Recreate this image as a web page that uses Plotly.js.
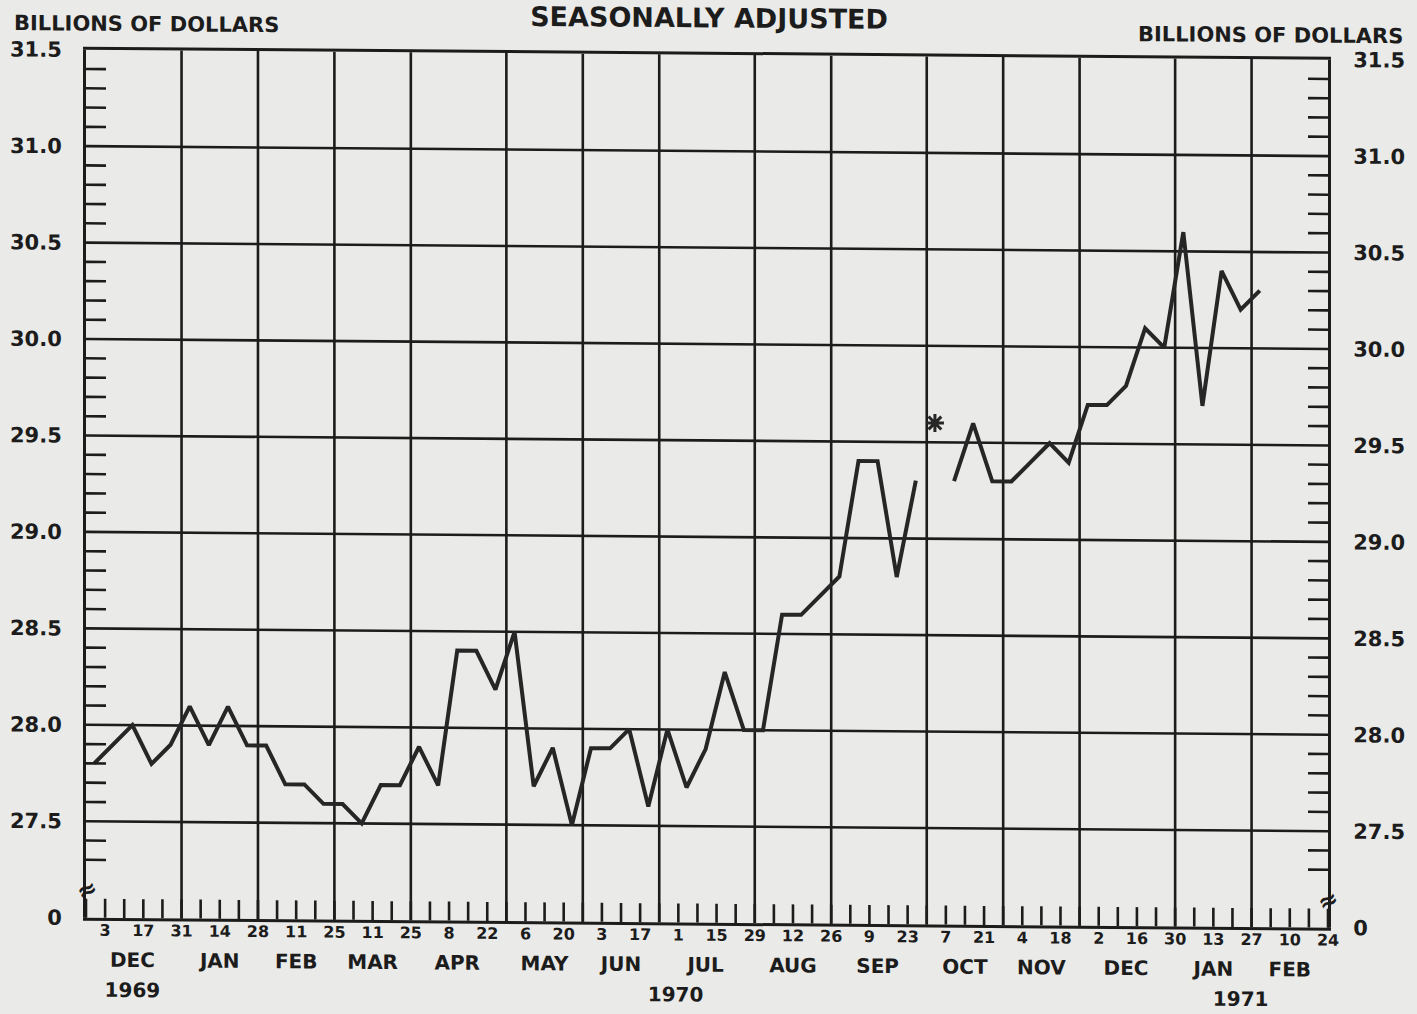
<!DOCTYPE html>
<html>
<head>
<meta charset="utf-8">
<script src="https://cdn.plot.ly/plotly-3.0.1.min.js"></script>
<style>
  html, body { margin: 0; padding: 0; background: #eaeae8; overflow: hidden; }
  #chart { width: 1417px; height: 1014px; transform: skewY(0.46deg); transform-origin: 0 0; }
  #chart path { shape-rendering: geometricPrecision !important; }
</style>
</head>
<body>
<div id="chart"></div>
<script>
// Weekly observations (plotted at mid-week)
const weeks = [
  '1969-11-29','1969-12-06','1969-12-13','1969-12-20','1969-12-27',
  '1970-01-03','1970-01-10','1970-01-17','1970-01-24','1970-01-31',
  '1970-02-07','1970-02-14','1970-02-21','1970-02-28','1970-03-07',
  '1970-03-14','1970-03-21','1970-03-28','1970-04-04','1970-04-11',
  '1970-04-18','1970-04-25','1970-05-02','1970-05-09','1970-05-16',
  '1970-05-23','1970-05-30','1970-06-06','1970-06-13','1970-06-20',
  '1970-06-27','1970-07-04','1970-07-11','1970-07-18','1970-07-25',
  '1970-08-01','1970-08-08','1970-08-15','1970-08-22','1970-08-29',
  '1970-09-05','1970-09-12','1970-09-19','1970-09-26','1970-10-03',
  '1970-10-10','1970-10-17','1970-10-24','1970-10-31','1970-11-07',
  '1970-11-14','1970-11-21','1970-11-28','1970-12-05','1970-12-12',
  '1970-12-19','1970-12-26','1971-01-02','1971-01-09','1971-01-16',
  '1971-01-23','1971-01-30'
];
const values = [
  27.8, 27.9, 28.0, 27.8, 27.9, 28.1, 27.9, 28.1, 27.9, 27.9,
  27.7, 27.7, 27.6, 27.6, 27.5, 27.7, 27.7, 27.9, 27.7, 28.4,
  28.4, 28.2, 28.5, 27.7, 27.9, 27.5, 27.9, 27.9, 28.0, 27.6,
  28.0, 27.7, 27.9, 28.3, 28.0, 28.0, 28.6, 28.6, 28.7, 28.8,
  29.4, 29.4, 28.8, 29.3, null, 29.3, 29.6, 29.3, 29.3, 29.4,
  29.5, 29.4, 29.7, 29.7, 29.8, 30.1, 30.0, 30.6, 29.7, 30.4,
  30.2, 30.3
];
// Week shown only with an asterisk (line broken there)
const asteriskWeeks = ['1970-10-03'];
const asteriskValues = [29.6];

// Axis labels
const monthLines = ['1969-12-31','1970-01-28','1970-02-25','1970-03-25','1970-04-29','1970-05-27',
  '1970-06-24','1970-07-29','1970-08-26','1970-09-30','1970-10-28','1970-11-25','1970-12-30','1971-01-27'];
const dayTickDates = ['1969-12-03','1969-12-17','1969-12-31','1970-01-14','1970-01-28','1970-02-11',
  '1970-02-25','1970-03-11','1970-03-25','1970-04-08','1970-04-22','1970-05-06','1970-05-20',
  '1970-06-03','1970-06-17','1970-07-01','1970-07-15','1970-07-29','1970-08-12','1970-08-26',
  '1970-09-09','1970-09-23','1970-10-07','1970-10-21','1970-11-04','1970-11-18','1970-12-02',
  '1970-12-16','1970-12-30','1971-01-13','1971-01-27','1971-02-10','1971-02-24'];
const dayTickText = ['3','17','31','14','28','11','25','11','25','8','22','6','20','3','17','1',
  '15','29','12','26','9','23','7','21','4','18','2','16','30','13','27','10','24'];
const monthCenters = ['1969-12-13','1970-01-14','1970-02-11','1970-03-11','1970-04-11','1970-05-13',
  '1970-06-10','1970-07-11','1970-08-12','1970-09-12','1970-10-14','1970-11-11','1970-12-12',
  '1971-01-13','1971-02-10'];
const monthNames = ['DEC','JAN','FEB','MAR','APR','MAY','JUN','JUL','AUG','SEP','OCT','NOV','DEC','JAN','FEB'];
const yearPositions = ['1969-12-13','1970-06-30','1971-01-23'];
const yearNames = ['1969','1970','1971'];
const yTickVals = [27.0, 27.5, 28.0, 28.5, 29.0, 29.5, 30.0, 30.5, 31.0, 31.5];
const yTickTextLeft = ['0','27.5','28.0','28.5','29.0','29.5','30.0','30.5','31.0','31.5'];
const yTickTextRight = ['0','27.5','28.0','28.5','29.0','29.5','30.0','30.5','31.0','31.5'];

const ink = '#1c1c1c';
const bg = '#eaeae8';
const fam = 'DejaVu Sans';
const xRange = ['1969-11-26', '1971-02-24'];
const yRange = [27.0, 31.5];

// minor y ticks every 0.1 from 27.3 upward (axis break below)
const yMinor = [];
for (let i = 273; i <= 314; i++) { if (i % 5 !== 0) yMinor.push(i / 10); }

// empty helper traces so that the label-only axes are drawn
function axisHolder(xa, ya) {
  return { x: [], y: [], type: 'scatter', mode: 'lines', xaxis: xa, yaxis: ya,
           showlegend: false, hoverinfo: 'skip' };
}

const traces = [
  {
    x: weeks, y: values, type: 'scatter', mode: 'lines',
    line: { color: '#262626', width: 4 }, connectgaps: false,
    hoverinfo: 'x+y', showlegend: false, xaxis: 'x', yaxis: 'y'
  },
  {
    x: asteriskWeeks, y: asteriskValues, type: 'scatter', mode: 'markers',
    marker: { symbol: 'asterisk-open', size: 15, color: '#262626', line: { color: '#262626', width: 3 } },
    showlegend: false, xaxis: 'x', yaxis: 'y'
  },
  axisHolder('x2', 'y'),
  axisHolder('x3', 'y'),
  axisHolder('x4', 'y'),
  axisHolder('x', 'y2')
];

const labelFont = { family: fam, size: 20, color: ink, weight: 'bold' };
const yLabelFont = { family: fam, size: 21, color: ink, weight: 'bold' };

const layout = {
  width: 1417, height: 1014,
  margin: { l: 86, r: 89, t: 49, b: 97, pad: 0 },
  paper_bgcolor: bg, plot_bgcolor: bg,
  showlegend: false,
  title: {
    text: 'SEASONALLY ADJUSTED',
    font: { family: fam, size: 27, color: ink, weight: 'bold' },
    x: 0.5004, xanchor: 'center', y: 0.9880, yanchor: 'middle'
  },
  xaxis: {
    type: 'date', range: xRange, fixedrange: true,
    tickmode: 'array', tickvals: monthLines, showticklabels: false, ticks: '',
    showgrid: true, gridcolor: ink, gridwidth: 2.6,
    showline: true, linecolor: ink, linewidth: 3, mirror: true, zeroline: false,
    minor: { tick0: '1969-11-26', dtick: 604800000, ticks: 'inside', ticklen: 19,
             tickwidth: 2.6, tickcolor: ink, showgrid: false }
  },
  xaxis2: {
    type: 'date', range: xRange, overlaying: 'x', side: 'bottom', anchor: 'y', fixedrange: true,
    tickmode: 'array', tickvals: dayTickDates, ticktext: dayTickText,
    ticks: '', showgrid: false, showline: false, zeroline: false,
    tickfont: { family: fam, size: 16, color: ink, weight: 'bold' }, ticklabelstandoff: 1
  },
  xaxis3: {
    type: 'date', range: xRange, overlaying: 'x', side: 'bottom', anchor: 'y', fixedrange: true,
    tickmode: 'array', tickvals: monthCenters, ticktext: monthNames,
    ticks: '', showgrid: false, showline: false, zeroline: false,
    tickfont: labelFont, ticklabelstandoff: 28
  },
  xaxis4: {
    type: 'date', range: xRange, overlaying: 'x', side: 'bottom', anchor: 'y', fixedrange: true,
    tickmode: 'array', tickvals: yearPositions, ticktext: yearNames,
    ticks: '', showgrid: false, showline: false, zeroline: false,
    tickfont: labelFont, ticklabelstandoff: 58
  },
  yaxis: {
    range: yRange, fixedrange: true,
    tickmode: 'array', tickvals: yTickVals, ticktext: yTickTextLeft,
    ticks: '', showgrid: true, gridcolor: ink, gridwidth: 2.6,
    showline: true, linecolor: ink, linewidth: 3, zeroline: false,
    tickfont: yLabelFont, ticklabelstandoff: 17,
    minor: { tickmode: 'array', tickvals: yMinor, ticks: 'inside', ticklen: 20,
             tickwidth: 2.6, tickcolor: ink, showgrid: false }
  },
  yaxis2: {
    range: yRange, overlaying: 'y', side: 'right', anchor: 'x', fixedrange: true,
    tickmode: 'array', tickvals: yTickVals, ticktext: yTickTextRight,
    ticks: '', showgrid: false, showline: true, linecolor: ink, linewidth: 3, zeroline: false,
    tickfont: yLabelFont, ticklabelstandoff: 18,
    minor: { tickmode: 'array', tickvals: yMinor, ticks: 'inside', ticklen: 20,
             tickwidth: 2.6, tickcolor: ink, showgrid: false }
  },
  annotations: [
    { text: 'BILLIONS OF DOLLARS', xref: 'paper', yref: 'paper', x: -0.0596, y: 1.0294,
      xanchor: 'left', yanchor: 'middle', showarrow: false,
      font: { family: fam, size: 21, color: ink, weight: 'bold' } },
    { text: 'BILLIONS OF DOLLARS', xref: 'paper', yref: 'paper', x: 1.062, y: 1.0279,
      xanchor: 'right', yanchor: 'middle', showarrow: false,
      font: { family: fam, size: 21, color: ink, weight: 'bold' } },
    { text: '≈', xref: 'paper', yref: 'y', x: 0.001, y: 27.145, xanchor: 'center', yanchor: 'middle',
      showarrow: false, textangle: -25,
      font: { family: fam, size: 24, color: ink, weight: 'bold' } },
    { text: '≈', xref: 'paper', yref: 'y', x: 1, y: 27.14, xanchor: 'center', yanchor: 'middle',
      showarrow: false, textangle: -25,
      font: { family: fam, size: 24, color: ink, weight: 'bold' } }
  ]
};

Plotly.newPlot('chart', traces, layout, { staticPlot: true, displayModeBar: false });
</script>
</body>
</html>
